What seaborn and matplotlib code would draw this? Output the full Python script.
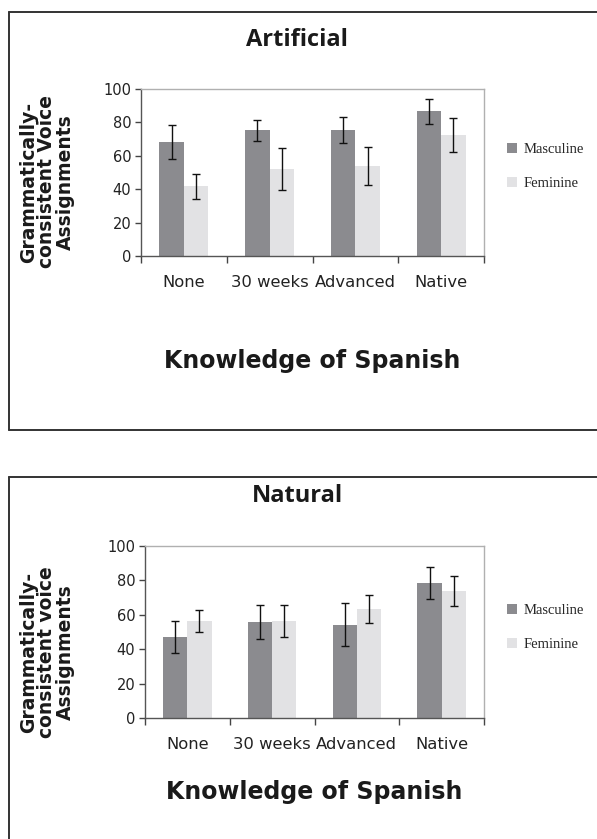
import matplotlib
matplotlib.use("Agg")
import matplotlib.pyplot as plt
from matplotlib.lines import Line2D
import seaborn as sns
import pandas as pd
import numpy as np

categories = ["None", "30 weeks", "Advanced", "Native"]
genders = ["Masculine", "Feminine"]

art_masc = [68.2, 75.2, 75.2, 86.8]
art_fem = [41.8, 52.0, 53.8, 72.4]
art_masc_err = [10.0, 6.5, 7.8, 7.5]
art_fem_err = [7.5, 12.4, 11.4, 10.2]

nat_masc = [47.1, 55.8, 54.1, 78.4]
nat_fem = [56.4, 56.4, 63.3, 73.7]
nat_masc_err = [9.3, 9.7, 12.5, 9.3]
nat_fem_err = [6.2, 9.2, 8.3, 8.8]

yticks = [0, 20, 40, 60, 80, 100]

C_MASC = "#8b8b8f"
C_FEM = "#e2e2e4"

sns.set_theme(style="white")
plt.rcParams["font.family"] = ["DejaVu Sans"]

W, H = 597, 839
fig = plt.figure(figsize=(W / 100, H / 100), dpi=100)
fig.patch.set_facecolor("white")


def fx(px):
    return px / W


def fy(py):
    return 1 - py / H


def panel(rect, masc, fem, merr, ferr, title, ylab, title_y, ylab_y, xlab_y, leg_y):
    ax = fig.add_axes(rect)
    df = pd.DataFrame({
        "cat": categories * 2,
        "gender": [genders[0]] * 4 + [genders[1]] * 4,
        "val": masc + fem,
    })
    sns.barplot(data=df, x="cat", y="val", hue="gender", order=categories,
                hue_order=genders, palette=[C_MASC, C_FEM], width=0.57,
                errorbar=None, saturation=1, ax=ax, legend=False,
                linewidth=0)
    errs = merr + ferr
    bars = [p for p in ax.patches][:8]
    for b, v, e in zip(bars, masc + fem, errs):
        cx = b.get_x() + b.get_width() / 2
        ax.errorbar(cx, v, yerr=e, fmt="none", ecolor="#111111",
                    elinewidth=1.0, capsize=2.8, capthick=1.0)
    ax.set_ylim(0, 100)
    ax.set_xlim(-0.5, 3.5)
    ax.set_yticks(yticks)
    ax.set_yticklabels([str(t) for t in yticks], fontsize=10.5, color="#222222")
    ax.set_xticks(range(4))
    ax.set_xticklabels(categories, fontsize=11.8, color="#222222")
    ax.set_xticks(np.arange(-0.5, 4.0, 1.0), minor=True)
    ax.tick_params(axis="x", which="major", length=0, pad=14)
    ax.tick_params(axis="x", which="minor", length=5, width=1, color="#444444",
                   direction="out", bottom=True)
    ax.tick_params(axis="y", length=4, width=1, color="#444444", direction="out",
                   left=True, pad=3)
    ax.set_xlabel("")
    ax.set_ylabel("")
    for s in ["top", "right"]:
        ax.spines[s].set_color("#b0b0b0")
        ax.spines[s].set_linewidth(1.0)
    for s in ["left", "bottom"]:
        ax.spines[s].set_color("#555555")
        ax.spines[s].set_linewidth(1.0)

    fig.text(fx(297), fy(title_y), title, ha="center", va="center",
             fontsize=17, fontweight="bold", family=["Open Sans", "DejaVu Sans"],
             color="#1a1a1a")
    fig.text(fx(47), fy(ylab_y), ylab, ha="center", va="center", rotation=90,
             fontsize=13.5, fontweight="bold", linespacing=0.95, color="#1a1a1a")
    fig.text(rect[0] + rect[2] / 2, fy(xlab_y), "Knowledge of Spanish",
             ha="center", va="center", fontsize=17, fontweight="bold",
             color="#1a1a1a")
    handles = [Line2D([], [], marker="s", linestyle="none", markersize=7,
                      markerfacecolor=c, markeredgewidth=0)
               for c in (C_MASC, C_FEM)]
    fig.legend(handles, genders, loc="center left",
               bbox_to_anchor=(fx(506), fy(leg_y)), frameon=False,
               prop={"family": "Liberation Serif", "size": 10.5},
               handlelength=0.8, handletextpad=0.4, labelspacing=1.45,
               borderpad=0, borderaxespad=0)
    return ax


top_rect = [fx(141), fy(256), fx(484) - fx(141), (256 - 89) / H]
bot_rect = [fx(145), fy(718), fx(484) - fx(145), (718 - 546) / H]

panel(top_rect, art_masc, art_fem, art_masc_err, art_fem_err, "Artificial",
      "Grammatically-\nconsistent Voice\nAssignments", 40, 182, 361, 166.5)
panel(bot_rect, nat_masc, nat_fem, nat_masc_err, nat_fem_err, "Natural",
      "Grammatically-\nconsistent voice\nAssignments", 496, 652, 792, 627.5)

# outer frames
fc = "#333333"
lw = 1.4
fig.add_artist(Line2D([fx(9), 1.0], [fy(12), fy(12)], color=fc, lw=lw))
fig.add_artist(Line2D([fx(9), fx(9)], [fy(12), fy(430)], color=fc, lw=lw))
fig.add_artist(Line2D([fx(9), 1.0], [fy(430), fy(430)], color=fc, lw=lw))
fig.add_artist(Line2D([fx(9), 1.0], [fy(477), fy(477)], color=fc, lw=lw))
fig.add_artist(Line2D([fx(9), fx(9)], [fy(477), 0.0], color=fc, lw=lw))

fig.savefig("out.png", dpi=100)
